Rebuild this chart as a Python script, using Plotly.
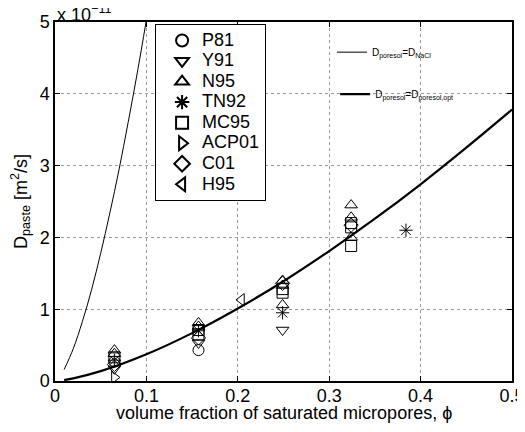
import plotly.graph_objects as go

# ---------------- data ----------------
series_names = ["P81", "Y91", "N95", "TN92", "MC95", "ACP01", "C01", "H95"]
series_symbols = ["circle-open", "triangle-down-open", "triangle-up-open", "asterisk-open",
                  "square-open", "triangle-right-open", "diamond-open", "triangle-left-open"]

p81_x = [0.065, 0.157]
p81_y = [0.27, 0.43]
y91_x = [0.065, 0.157, 0.249]
y91_y = [0.17, 0.53, 0.71]
n95_x = [0.065, 0.065, 0.157, 0.157, 0.249, 0.249, 0.249, 0.324, 0.324, 0.324]
n95_y = [0.43, 0.38, 0.81, 0.76, 1.40, 1.33, 1.06, 2.45, 2.28, 2.00]
tn92_x = [0.065, 0.157, 0.249, 0.384]
tn92_y = [0.29, 0.70, 0.95, 2.10]
mc95_x = [0.065, 0.157, 0.157, 0.249, 0.249, 0.324, 0.324, 0.324]
mc95_y = [0.33, 0.71, 0.65, 1.28, 1.23, 2.20, 2.14, 1.88]
acp01_x = [0.065]
acp01_y = [0.05]
c01_x = [0.065, 0.157, 0.249, 0.324]
c01_y = [0.23, 0.60, 1.36, 2.17]
h95_x = [0.204]
h95_y = [1.13]

series_x = [p81_x, y91_x, n95_x, tn92_x, mc95_x, acp01_x, c01_x, h95_x]
series_y = [p81_y, y91_y, n95_y, tn92_y, mc95_y, acp01_y, c01_y, h95_y]

# model curves
nacl_x = [0.01, 0.02, 0.03, 0.04, 0.05, 0.06, 0.07, 0.08, 0.09, 0.1]
nacl_y = [0.16, 0.45, 0.83, 1.27, 1.78, 2.34, 2.94, 3.60, 4.29, 5.03]
opt_x = [0.01, 0.02, 0.05, 0.1, 0.15, 0.2, 0.25, 0.3, 0.35, 0.4, 0.45, 0.5]
opt_y = [0.014, 0.037, 0.137, 0.372, 0.667, 1.01, 1.39, 1.81, 2.26, 2.74, 3.25, 3.78]

line1_name = "D<sub>poresol</sub>=D<sub>NaCl</sub>"
line2_name = "D<sub>poresol</sub>=D<sub>poresol,opt</sub>"

x_title = "volume fraction of saturated micropores, ϕ"
y_title = "D<sub>paste</sub> [m<sup>2</sup>/s]"
exponent_label = "x 10<sup>−11</sup>"

x_ticks = [0, 0.1, 0.2, 0.3, 0.4, 0.5]
x_tick_text = ["0", "0.1", "0.2", "0.3", "0.4", "0.5"]
y_ticks = [0, 1, 2, 3, 4, 5]
y_tick_text = ["0", "1", "2", "3", "4", "5"]

# ---------------- figure ----------------
FONT = "Liberation Sans, Arial, Helvetica, sans-serif"
BIG = 18
fig = go.Figure()

fig.add_trace(go.Scatter(x=nacl_x, y=nacl_y, mode="lines", name=line1_name,
                         line=dict(color="black", width=1, shape="spline"),
                         legend="legend2"))
fig.add_trace(go.Scatter(x=opt_x, y=opt_y, mode="lines", name=line2_name,
                         line=dict(color="black", width=2.2, shape="spline"),
                         legend="legend3"))

for nm, sym, xs, ys in zip(series_names, series_symbols, series_x, series_y):
    fig.add_trace(go.Scatter(x=xs, y=ys, mode="markers",
                             name=f"<span style='font-size:{BIG}px'>{nm}</span>",
                             marker=dict(symbol=sym, size=11, color="black",
                                         line=dict(color="black", width=1)),
                             legend="legend"))

axis_common = dict(showline=True, linecolor="black", linewidth=1.5, mirror="ticks",
                   ticks="inside", ticklen=5, tickcolor="black", tickwidth=1,
                   showgrid=True, gridcolor="#9a9a9a", griddash="dot", gridwidth=1,
                   zeroline=False, automargin=False,
                   tickfont=dict(size=BIG, color="black", family=FONT))

fig.update_xaxes(range=[0, 0.5], tickvals=x_ticks, ticktext=x_tick_text,
                 ticklabelstandoff=-2, **axis_common)
fig.update_yaxes(range=[0, 5], tickvals=y_ticks, ticktext=y_tick_text,
                 title=dict(text=y_title,
                            font=dict(size=BIG, color="black", family=FONT), standoff=11),
                 **axis_common)

# the page body adds an 8px margin; the figure is sized so the page fits the
# window without scrollbars and the plot lands at left 55 / right 512 / top 22 / bottom 381
fig.update_layout(
    width=517, height=416,
    margin=dict(l=47, r=13, t=14, b=43),
    paper_bgcolor="white", plot_bgcolor="white",
    font=dict(family=FONT, color="black"),
    legend=dict(x=0.219, y=0.994, xanchor="left", yanchor="top",
                bgcolor="white", bordercolor="black", borderwidth=1,
                font=dict(size=13.5, family=FONT, color="black"),
                indentation=6, itemsizing="constant", tracegroupgap=0),
    legend2=dict(x=0.606, y=0.916, xanchor="left", yanchor="middle",
                 bgcolor="rgba(0,0,0,0)", borderwidth=0,
                 font=dict(size=10, family=FONT, color="black")),
    legend3=dict(x=0.613, y=0.799, xanchor="left", yanchor="middle",
                 bgcolor="rgba(0,0,0,0)", borderwidth=0,
                 font=dict(size=10, family=FONT, color="black")),
    annotations=[
        dict(text=exponent_label, xref="paper", yref="paper",
             x=0, y=1, xanchor="left", yanchor="bottom", showarrow=False,
             font=dict(size=BIG, family=FONT, color="black"), yshift=-5),
        dict(text=x_title, xref="paper", yref="paper",
             x=0.5, y=0, xanchor="center", yanchor="middle", showarrow=False,
             font=dict(size=BIG, family=FONT, color="black"), yshift=-32),
    ],
)

fig.write_html("out.html")
